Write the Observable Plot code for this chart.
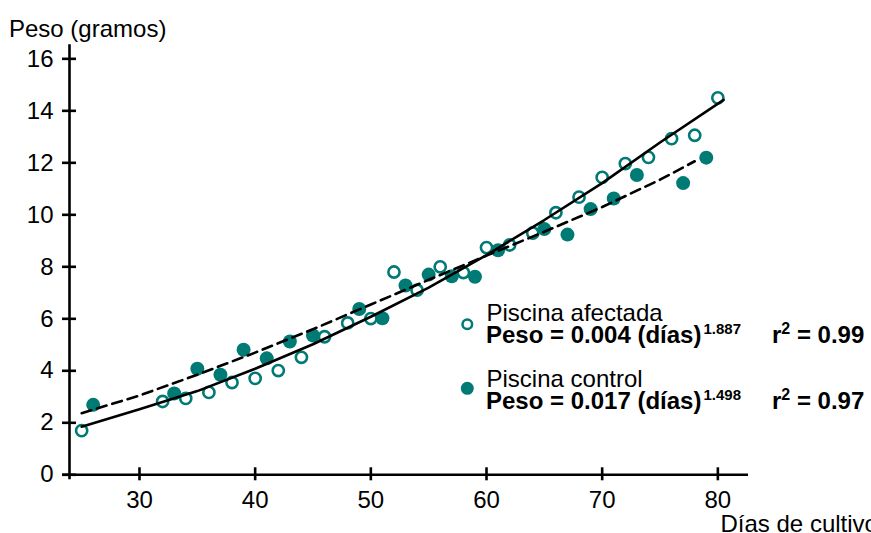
<!DOCTYPE html>
<html><head><meta charset="utf-8">
<script src="https://cdn.jsdelivr.net/npm/d3@7"></script>
<script src="https://cdn.jsdelivr.net/npm/@observablehq/plot@0.6"></script>
<style>
html,body{margin:0;padding:0;background:#fff;overflow:hidden;}
#wrap{position:relative;width:871px;height:533px;}
#overlay{position:absolute;left:0;top:0;pointer-events:none;}
#overlay text{font-family:"Liberation Sans",Arial,sans-serif;fill:#000;}
</style></head><body><div id="wrap"></div>
<script>
// Data
const afectadaDias = [25,32,34,36,38,40,42,44,46,48,50,52,54,56,58,60,62,64,66,68,70,72,74,76,78,80];
const afectadaPeso = [1.70,2.82,2.94,3.17,3.55,3.71,4.01,4.52,5.31,5.84,6.01,7.80,7.10,8.00,7.78,8.74,8.84,9.30,10.08,10.68,11.44,11.97,12.21,12.93,13.06,14.50];
const controlDias = [26,33,35,37,39,41,43,45,49,51,53,55,57,59,61,65,67,69,71,73,77,79];
const controlPeso = [2.69,3.13,4.08,3.85,4.81,4.48,5.13,5.36,6.38,6.02,7.28,7.70,7.64,7.62,8.64,9.45,9.24,10.22,10.63,11.53,11.22,12.20];
// Fitted curves as drawn in the picture
const curvaAfectadaDias = [25,30,35,40,45,50,55,60,65,70,75,80.5];
const curvaAfectadaPeso = [1.85,2.52,3.22,4.08,5.02,6.08,7.20,8.45,9.80,11.22,12.78,14.42];
const curvaControlDias = [25,30,35,40,45,50,55,60,65,70,75,78];
const curvaControlPeso = [2.37,3.05,3.85,4.70,5.60,6.55,7.50,8.43,9.35,10.30,11.35,12.06];
const xTicks = [30,40,50,60,70,80];
const yTicks = [0,2,4,6,8,10,12,14,16];
const xDomain = [23.95, 82.65];
const yDomain = [0, 16.54];

const teal = "#007a74";
const afectada = afectadaDias.map((d,i)=>({dias:d, peso:afectadaPeso[i]}));
const control = controlDias.map((d,i)=>({dias:d, peso:controlPeso[i]}));
const curvaA = curvaAfectadaDias.map((d,i)=>({dias:d, peso:curvaAfectadaPeso[i]}));
const curvaC = curvaControlDias.map((d,i)=>({dias:d, peso:curvaControlPeso[i]}));

const chart = Plot.plot({
  width: 871, height: 533,
  marginLeft: 69, marginRight: 123, marginTop: 44.3, marginBottom: 58.7,
  x: {domain: xDomain}, y: {domain: yDomain},
  style: {fontFamily: "Liberation Sans, Arial, sans-serif", fontSize: "24px", color: "#000", background: "#fff"},
  marks: [
    Plot.ruleY([yDomain[0]], {insetLeft: -7, strokeWidth: 2.6, stroke: "#000"}),
    Plot.ruleX([xDomain[0]], {insetBottom: -5, strokeWidth: 2.6, stroke: "#000"}),
    Plot.axisX(xTicks, {tickSize: 13, dy: -7, tickPadding: 10, strokeWidth: 2.6, fontSize: 24, label: null}),
    Plot.axisY(yTicks, {tickSize: 14, dx: 7, tickPadding: 9, strokeWidth: 2.6, fontSize: 24, label: null}),
    Plot.dot(control, {x: "dias", y: "peso", r: 7, fill: teal, stroke: null}),
    Plot.dot(afectada, {x: "dias", y: "peso", r: 5.6, fill: "none", stroke: teal, strokeWidth: 2.6}),
    Plot.line(curvaA, {x: "dias", y: "peso", stroke: "#000", strokeWidth: 2.6}),
    Plot.line(curvaC, {x: "dias", y: "peso", stroke: "#000", strokeWidth: 2.6, strokeDasharray: "10,6"})
  ]
});
const wrap = document.getElementById("wrap");
wrap.appendChild(chart);

const ns = "http://www.w3.org/2000/svg";
const ov = document.createElementNS(ns, "svg");
ov.setAttribute("id", "overlay");
ov.setAttribute("width", 871); ov.setAttribute("height", 533);
ov.innerHTML = `
<text x="9" y="36.7" font-size="24">Peso (gramos)</text>
<text x="720.5" y="532" font-size="24">Días de cultivo</text>
<circle cx="467.3" cy="324.3" r="4.8" fill="none" stroke="${teal}" stroke-width="2.5"/>
<circle cx="467.3" cy="388.3" r="6.5" fill="${teal}"/>
<text x="486.5" y="321" font-size="24">Piscina afectada</text>
<text x="486" y="343.3" font-size="24" font-weight="bold">Peso = 0.004 (días)<tspan font-size="15" dx="2" dy="-9">1.887</tspan></text>
<text x="772" y="343.3" font-size="24" font-weight="bold">r<tspan font-size="16" dy="-9">2</tspan><tspan dy="9"> = 0.99</tspan></text>
<text x="486.5" y="386.6" font-size="24">Piscina control</text>
<text x="486" y="409" font-size="24" font-weight="bold">Peso = 0.017 (días)<tspan font-size="15" dx="2" dy="-9">1.498</tspan></text>
<text x="772" y="409" font-size="24" font-weight="bold">r<tspan font-size="16" dy="-9">2</tspan><tspan dy="9"> = 0.97</tspan></text>
`;
wrap.appendChild(ov);
</script></body></html>
